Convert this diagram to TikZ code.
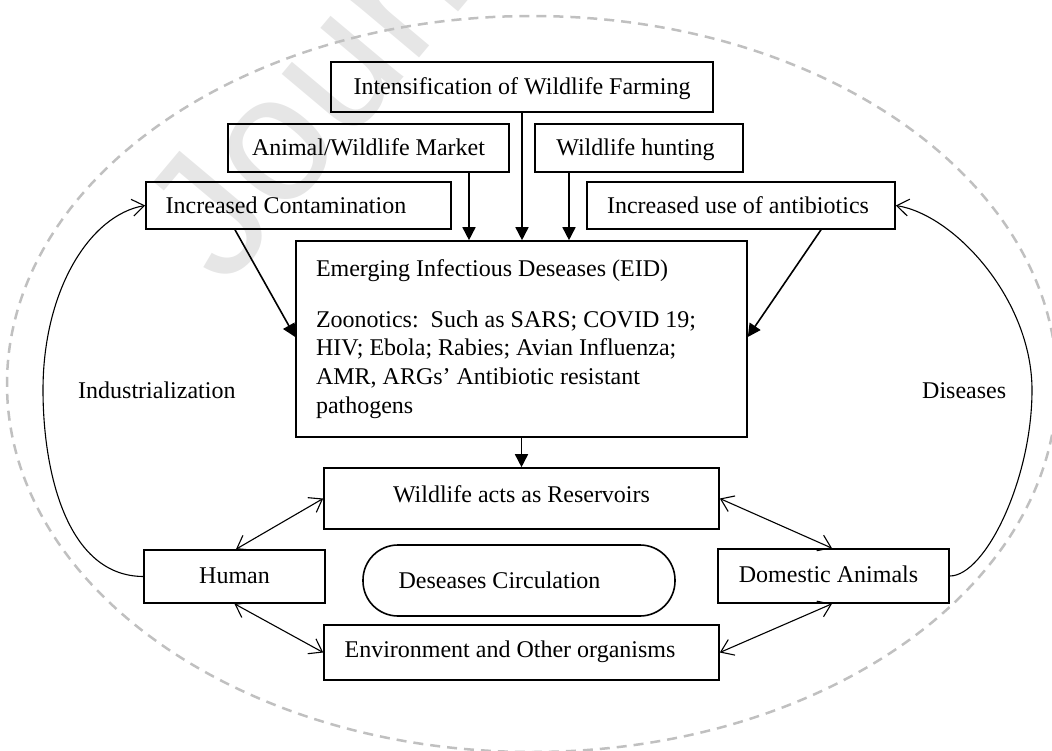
\documentclass[tikz,border=0pt]{standalone}
\usepackage{fontspec}
\setmainfont{Liberation Serif}
\newfontfamily\wmfont{Liberation Sans}
\usetikzlibrary{arrows.meta}
\newcommand\diafont{\fontsize{24}{28.8}\selectfont}
\definecolor{wmgray}{RGB}{230,230,230}
\definecolor{dashgray}{RGB}{192,192,192}
\begin{document}
\begin{tikzpicture}[x=1pt,y=-1pt,
  box/.style={draw, line width=1.6pt, inner sep=0pt, text height=16pt, text depth=0pt, font=\diafont},
  lbl/.style={inner sep=0pt, anchor=base west, font=\diafont},
  farrow/.style={line width=1.6pt, -{Triangle[length=13pt,width=13pt]}},
  darrow/.style={line width=1.1pt, {Straight Barb[length=12pt,width=17pt]}-{Straight Barb[length=12pt,width=17pt]}},
  carrow/.style={line width=1.1pt, -{Straight Barb[length=12pt,width=17pt]}}]
\useasboundingbox (0,0) rectangle (1052,751);
% watermark
\node[rotate=50, anchor=base west, inner sep=0pt, text=wmgray, font=\wmfont\fontsize{180}{180}\selectfont] (wm) at (225,290) {Journal};
\draw[dashgray, line width=2.5pt, dash pattern=on 10pt off 7pt] (532,384) ellipse [x radius=525, y radius=368];
% boxes
\node[box, minimum width=382, minimum height=50] (intens) at (522,87) {Intensification of Wildlife Farming};
\node[box, minimum width=281, minimum height=48] (market) at (368.5,148) {Animal/Wildlife Market};
\node[box, minimum width=208, minimum height=48] (hunt) at (639,148) {Wildlife hunting\hspace*{7pt}};
\node[box, minimum width=305, minimum height=47] (contam) at (298.5,205.5) {Increased Contamination\hspace*{25pt}};
\node[box, minimum width=308, minimum height=47] (anti) at (741,205.5) {Increased use of antibiotics\hspace*{6pt}};
\node[draw, line width=1.6pt, inner xsep=20pt, inner ysep=0pt, text width=411pt, align=flush left, minimum height=196, font=\diafont] (eid) at (521.5,339)
  {Emerging Infectious Deseases (EID)\\[22pt]
   Zoonotics:\ \ Such as SARS; COVID 19;\\
   HIV; Ebola; Rabies; Avian Influenza;\\
   AMR, ARGs’ Antibiotic resistant\\
   pathogens};
\node[box, minimum width=395, minimum height=61, text depth=9pt] (wres) at (521.5,498.5) {Wildlife acts as Reservoirs};
\node[box, minimum width=181, minimum height=53, text depth=3pt] (human) at (234.5,576.5) {Human};
\node[box, rounded corners=35pt, minimum width=312, minimum height=71] (circ) at (519,580.5) {Deseases Circulation\hspace*{39pt}};
\node[box, minimum width=231, minimum height=54, text depth=4pt] (dom) at (833.5,576) {Domestic Animals\hspace*{10pt}};
\node[box, minimum width=395, minimum height=55, text depth=7pt] (env) at (521.5,652.5) {Environment and Other organisms\hspace*{23pt}};
% side labels
\node[lbl] (ind) at (78,398) {Industrialization};
\node[lbl] (dis) at (922,398) {Diseases};
% arrows into EID
\draw[farrow] ([xshift=100.5pt]market.south) -- ([xshift=100.5pt]market.south |- eid.north);
\draw[farrow] (intens.south) -- (intens.south |- eid.north);
\draw[farrow] ([xshift=-70pt]hunt.south) -- ([xshift=-70pt]hunt.south |- eid.north);
\draw[farrow] ([xshift=-63.5pt]contam.south) -- ([yshift=2pt]eid.west);
\draw[farrow] ([xshift=80pt]anti.south) -- ([yshift=2pt]eid.east);
\draw[farrow] (eid.south) -- (wres.north);
% circulation arrows
\draw[darrow] ([xshift=1.5pt]human.north) -- (wres.west);
\draw[darrow] (human.south) -- (env.west);
\draw[darrow] (wres.east) -- ([xshift=-1.5pt]dom.north);
\draw[darrow] ([xshift=-1.5pt]dom.south) -- (env.east);
% side loops
\coordinate (lmid) at (43,390);
\coordinate (rmid) at (1032,390);
\draw[carrow] (human.west) .. controls (66,576) and (43,470) .. (lmid) .. controls (43,290) and (90,215) .. (contam.west);
\draw[carrow] (dom.east) .. controls (985,576) and (1032,480) .. (rmid) .. controls (1032,300) and (955,215) .. (anti.east);
\end{tikzpicture}
\end{document}
